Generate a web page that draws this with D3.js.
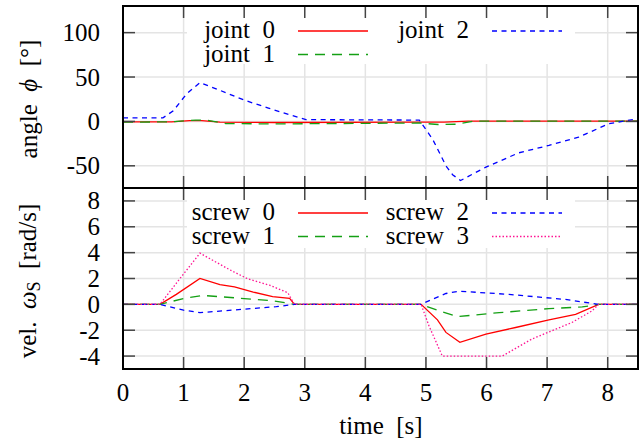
<!DOCTYPE html>
<html>
<head>
<meta charset="UTF-8">
<script src="https://d3js.org/d3.v7.min.js"></script>
</head>
<body style="margin:0">
<svg id="chart" width="644" height="443"></svg>
<script>
// ---- data ----
var timeTicks = [0, 1, 2, 3, 4, 5, 6, 7, 8];
var angleTicks = [100, 50, 0, -50];
var velTicks = [8, 6, 4, 2, 0, -2, -4];

var jointNames = ["joint 0", "joint 1", "joint 2"];
var screwNames = ["screw 0", "screw 1", "screw 2", "screw 3"];

// [time s, angle deg]
var joint0 = [[0,-0.5],[0.8,-0.5],[1.1,0.8],[1.3,0.8],[1.6,-0.8],[2.5,-1.2],[4.9,-0.8],[5.3,-0.8],[5.7,0.4],[8.5,0.4]];
var joint1 = [[0,-0.8],[0.8,-0.5],[1.2,1.5],[1.4,1.2],[1.7,-2.5],[2.5,-2.8],[4.9,-1.8],[5.2,-3.5],[5.5,-3.2],[5.8,0.4],[8.5,0.2]];
var joint2 = [[0,4],[0.66,4],[0.83,12],[1.05,31],[1.27,43.7],[1.6,35],[2.0,24],[2.4,15],[2.69,8.7],[3.02,2],[4.89,1.5],
              [5.11,-20],[5.33,-50],[5.44,-60],[5.57,-66.6],[5.99,-51.5],[6.53,-35.4],[7.03,-27],[7.52,-17.7],[8.02,-2.6],[8.5,3]];

// [time s, rad/s]
var screw0 = [[0,0],[0.61,0],[0.88,0.77],[1.27,2.0],[1.6,1.53],[1.84,1.35],[2.15,0.95],[2.47,0.59],[2.75,0.46],[2.83,0],
              [4.92,0],[5.19,-1.2],[5.33,-2.17],[5.56,-2.94],[5.99,-2.3],[6.48,-1.79],[7.03,-1.2],[7.47,-0.77],[7.85,0],[8.5,0]];
var screw1 = [[0,0],[0.61,0],[1.0,0.45],[1.32,0.69],[2.0,0.45],[2.5,0.26],[2.83,0],
              [4.92,0],[5.22,-0.51],[5.52,-0.95],[6.21,-0.64],[7.03,-0.33],[7.58,-0.2],[7.85,0],[8.5,0]];
var screw2 = [[0,0],[0.61,0],[1.0,-0.45],[1.27,-0.64],[1.98,-0.38],[2.53,-0.18],[2.83,0],
              [4.92,0],[5.1,0.38],[5.33,0.84],[5.55,1.02],[6.37,0.77],[7.3,0.38],[7.85,0],[8.5,0]];
var screw3 = [[0,0],[0.61,0],[0.94,2.0],[1.27,3.96],[1.76,2.68],[2.06,1.97],[2.42,1.48],[2.72,0.9],[2.83,0],
              [4.92,0],[5.05,-1.66],[5.27,-4],[6.26,-4],[6.75,-2.68],[7.41,-1.4],[7.74,-0.51],[7.85,0],[8.5,0]];

// line styles: colour + dash
var styles = [
    {color: "#ff0000", dash: null},
    {color: "#14a014", dash: "10,7"},
    {color: "#0000ff", dash: "5,4.5"},
    {color: "#ff1493", dash: "1.5,2"}
];

var svg = d3.select("#chart");
var left = 123, right = 638;

var x = d3.scaleLinear().domain([0, 8.5]).range([left, right]);
var yTop = d3.scaleLinear().domain([-75, 130]).range([188, 6]);
var yBot = d3.scaleLinear().domain([-5, 9]).range([369, 188]);

// gnuplot-ish wide word gaps
function wide(s) { return String(s).replace(/ /g, "\u00a0\u00a0"); }

// serif text, styled inline
function label(parent) {
    return parent.append("text")
        .style("font-family", "'Liberation Serif'")
        .style("font-size", "25px");
}

function panel(y, ticks, series, names, box, rows) {
    var g = svg.append("g");
    var y0 = y.range()[1], y1 = y.range()[0];

    // grid
    g.selectAll(".hg").data(ticks).enter().append("line")
        .attr("x1", left).attr("x2", right)
        .attr("y1", function(d) { return y(d); }).attr("y2", function(d) { return y(d); })
        .attr("stroke", "#e4e4e4").attr("stroke-width", 1.5);
    g.selectAll(".vg").data(timeTicks.slice(1)).enter().append("line")
        .attr("x1", function(d) { return x(d); }).attr("x2", function(d) { return x(d); })
        .attr("y1", y0).attr("y2", y1)
        .attr("stroke", "#e4e4e4").attr("stroke-width", 1.5);

    // curves
    var line = d3.line().x(function(d) { return x(d[0]); }).y(function(d) { return y(d[1]); });
    series.forEach(function(s, i) {
        g.append("path").attr("d", line(s))
            .attr("fill", "none")
            .attr("stroke", styles[i].color)
            .attr("stroke-width", 1.3)
            .attr("stroke-dasharray", styles[i].dash);
    });

    // legend (two columns, white box hides the grid)
    g.append("rect").attr("x", box[0]).attr("y", box[1]).attr("width", box[2]).attr("height", box[3]).attr("fill", "#fff");
    names.forEach(function(n, i) {
        var col = Math.floor(i / 2), row = i % 2;
        var ty = rows[row];
        label(g).attr("x", col ? 469 : 275).attr("y", ty).attr("text-anchor", "end").text(wide(n));
        g.append("line")
            .attr("x1", col ? 492 : 298).attr("x2", col ? 562 : 368)
            .attr("y1", ty - 7).attr("y2", ty - 7)
            .attr("stroke", styles[i].color).attr("stroke-width", 1.3)
            .attr("stroke-dasharray", styles[i].dash);
    });

    // ticks, mirrored on every side
    var tk = 12;
    ticks.forEach(function(d) {
        g.append("line").attr("x1", left).attr("x2", left + tk).attr("y1", y(d)).attr("y2", y(d))
            .attr("stroke", "#444").attr("stroke-width", 1.5);
        g.append("line").attr("x1", right - tk).attr("x2", right).attr("y1", y(d)).attr("y2", y(d))
            .attr("stroke", "#444").attr("stroke-width", 1.5);
        label(g).attr("x", 100).attr("y", y(d) + 8.5).attr("text-anchor", "end").text(d);
    });
    timeTicks.forEach(function(d) {
        g.append("line").attr("x1", x(d)).attr("x2", x(d)).attr("y1", y0).attr("y2", y0 + tk)
            .attr("stroke", "#444").attr("stroke-width", 1.5);
        g.append("line").attr("x1", x(d)).attr("x2", x(d)).attr("y1", y1 - tk).attr("y2", y1)
            .attr("stroke", "#444").attr("stroke-width", 1.5);
    });

    // frame
    g.append("rect").attr("x", left).attr("y", y0).attr("width", right - left).attr("height", y1 - y0)
        .attr("fill", "none").attr("stroke", "#000").attr("stroke-width", 2);
}

panel(yTop, angleTicks, [joint0, joint1, joint2], jointNames, [187, 7, 388, 57], [38, 61.5]);
panel(yBot, velTicks, [screw0, screw1, screw2, screw3], screwNames, [187, 189, 388, 59], [220, 243.5]);

// time axis labels
timeTicks.forEach(function(d) {
    label(svg).attr("x", x(d)).attr("y", 401).attr("text-anchor", "middle").text(d);
});
label(svg).attr("x", 381).attr("y", 434).attr("text-anchor", "middle").text(wide("time [s]"));

// y axis titles
var t1 = label(svg).attr("transform", "translate(37,99) rotate(-90)").attr("text-anchor", "middle");
t1.append("tspan").text("angle\u00a0\u00a0");
t1.append("tspan").style("font-style", "italic").text("ϕ");
t1.append("tspan").text("\u00a0\u00a0[°]");

var t2 = label(svg).attr("transform", "translate(36,281) rotate(-90)").attr("text-anchor", "middle");
t2.append("tspan").text("vel.\u00a0\u00a0");
t2.append("tspan").style("font-style", "italic").text("ω");
t2.append("tspan").style("font-size", "18px").attr("dy", 4).text("S");
t2.append("tspan").attr("dy", -4).text("\u00a0\u00a0[rad/s]");
</script>
</body>
</html>
